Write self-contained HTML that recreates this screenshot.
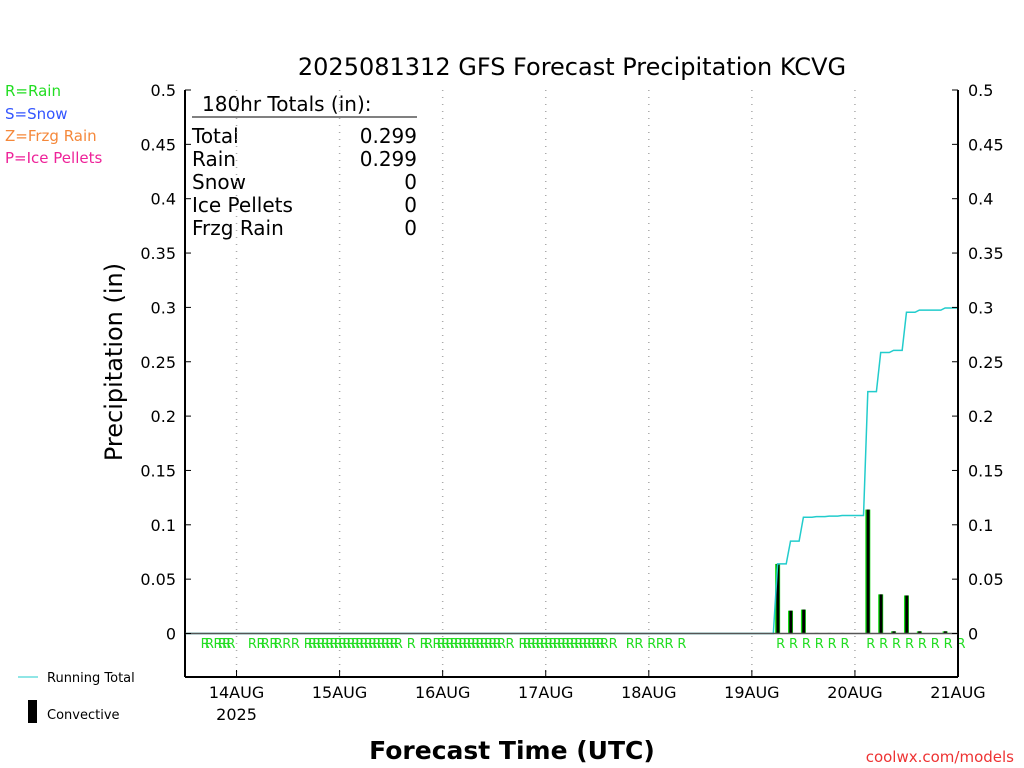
<!DOCTYPE html>
<html><head><meta charset="utf-8"><style>
body{margin:0;background:#fff;}
svg{display:block;font-family:"DejaVu Sans","Liberation Sans",sans-serif;}
</style></head><body>
<svg id="chart" width="1024" height="768" viewBox="0 0 1024 768" xmlns="http://www.w3.org/2000/svg">
<rect width="1024" height="768" fill="#fff"/>
<text x="572" y="75" font-size="24" text-anchor="middle" fill="#000">2025081312 GFS Forecast Precipitation KCVG</text>
<g font-size="15">
<text x="5" y="96" fill="#22dd22">R=Rain</text>
<text x="5" y="119" fill="#3355ff">S=Snow</text>
<text x="5" y="141" fill="#f5883a">Z=Frzg Rain</text>
<text x="5" y="163" fill="#ee2299">P=Ice Pellets</text>
</g>
<text transform="translate(122,362) rotate(-90)" font-size="24" text-anchor="middle" fill="#000">Precipitation (in)</text>
<text x="512" y="759" font-size="25" font-weight="bold" text-anchor="middle" fill="#000">Forecast Time (UTC)</text>
<text x="1014" y="762" font-size="15" text-anchor="end" fill="#ee3333">coolwx.com/models</text>
<g font-size="20" fill="#000">
<text x="202" y="111">180hr Totals (in):</text>
<line x1="192" y1="117" x2="417" y2="117" stroke="#000" stroke-width="1"/>
<text x="192" y="143">Total</text><text x="417" y="143" text-anchor="end">0.299</text>
<text x="192" y="166">Rain</text><text x="417" y="166" text-anchor="end">0.299</text>
<text x="192" y="189">Snow</text><text x="417" y="189" text-anchor="end">0</text>
<text x="192" y="212">Ice Pellets</text><text x="417" y="212" text-anchor="end">0</text>
<text x="192" y="235">Frzg Rain</text><text x="417" y="235" text-anchor="end">0</text>
</g>
<g font-size="13" fill="#000">
<line x1="18" y1="677" x2="38" y2="677" stroke="#22cccc" stroke-width="1"/>
<text x="47" y="682">Running Total</text>
<rect x="28" y="700" width="9" height="23" fill="#000"/>
<text x="47" y="719">Convective</text>
</g>
<g id="grid"></g><g id="bars"></g><g id="line"></g><g id="rlabels"></g><g id="axes"></g>
</svg>
<script>
const dayLabels=["14AUG","15AUG","16AUG","17AUG","18AUG","19AUG","20AUG","21AUG"];
const dayHours=[12,36,60,84,108,132,156,180];
const yTicks=[0,0.05,0.1,0.15,0.2,0.25,0.3,0.35,0.4,0.45,0.5];
const barHours=[138,141,144,147,150,153,159,162,165,168,171,174,177,180];
const barValues=[0.064,0.021,0.022,0.0005,0.0005,0.0005,0.114,0.036,0.002,0.035,0.002,0,0.002,0];
const rainLabelHours=[4,5,7,8,9,10,15,17,18,20,21,23,25,28,29,30,31,32,33,34,35,36,37,38,39,40,41,42,43,44,45,46,47,48,49,52,55,56,58,59,60,61,62,63,64,65,66,67,68,69,70,71,72,73,75,78,79,80,81,82,83,84,85,86,87,88,89,90,91,92,93,94,95,96,97,99,103,105,108,110,112,115,138,141,144,147,150,153,159,162,165,168,171,174,177,180];
const X0=185,X1=958,Y0=633.5,Y1=90,HMAX=180;
const xs=h=>X0+(X1-X0)*h/HMAX, ys=v=>Y0-(Y0-Y1)*v/0.5;
const NS="http://www.w3.org/2000/svg";
function mk(p,t,a){const e=document.createElementNS(NS,t);for(const k in a)e.setAttribute(k,a[k]);document.getElementById(p).appendChild(e);return e;}
dayHours.forEach((h,i)=>{
 const g=mk("grid","line",{x1:xs(h),x2:xs(h),y1:Y1,y2:677,stroke:"#aaa","stroke-dasharray":"1,6","stroke-width":1.5});
 
 
 const tk=mk("axes","line",{x1:xs(h),x2:xs(h),y1:670,y2:677,stroke:"#000"});
 
 
 const t=mk("axes","text",{x:xs(h),y:698,"font-size":16,"text-anchor":"middle",fill:"#000"});
 t.textContent=dayLabels[i];
 
 
});
const yr=mk("axes","text",{x:xs(12),y:720,"font-size":16,"text-anchor":"middle",fill:"#000"});yr.textContent="2025";


[[X0,Y1,X0,677],[X1,Y1,X1,677],[X0,677,X1,677]].forEach(c=>{const l=mk("axes","line",{x1:c[0],y1:c[1],x2:c[2],y2:c[3],stroke:"#000","stroke-width":2});
 
 });
const z=mk("axes","line",{x1:X0,x2:X1,y1:Y0,y2:Y0,stroke:"#555","stroke-width":1.5});


yTicks.forEach(v=>{
 const y=ys(v);
 mk("axes","line",{x1:X0,x2:X0+6,y1:y,y2:y,stroke:"#000"});
 mk("axes","line",{x1:X1-6,x2:X1,y1:y,y2:y,stroke:"#000"});
 const a=mk("axes","text",{x:176,y:y+6,"font-size":16,"text-anchor":"end",fill:"#000"});a.textContent=String(v);
 
 
 const b=mk("axes","text",{x:968,y:y+6,"font-size":16,fill:"#000"});b.textContent=String(v);
 
 
});
barHours.forEach((h,i)=>{
 const v=barValues[i]; if(v<=0)return;
 const top=ys(v),x=xs(h);
 const g=mk("bars","rect",{x:x-2.5,y:top,width:5,height:Math.max(Y0-top,1),fill:"#11dd11"});
 
 
 const b=mk("bars","rect",{x:x-1.2,y:top,width:3,height:Math.max(Y0-top,1),fill:"#000"});
 
 
});
let cum=0,pts=[[xs(0),ys(0)],[xs(barHours[0]-1),ys(0)]];
barHours.forEach((h,i)=>{cum+=barValues[i];pts.push([xs(h),ys(cum)]);if(i<barHours.length-1)pts.push([xs(barHours[i+1]-1),ys(cum)]);});
const pl=mk("line","polyline",{points:pts.map(p=>p.join(",")).join(" "),fill:"none",stroke:"#22cccc","stroke-width":1.5});


rainLabelHours.forEach(h=>{
 const t=mk("rlabels","text",{x:xs(h)+3,y:648,"font-size":13,"text-anchor":"middle",fill:"#22dd22"});t.textContent="R";
 
 
});
</script>
</body></html>
